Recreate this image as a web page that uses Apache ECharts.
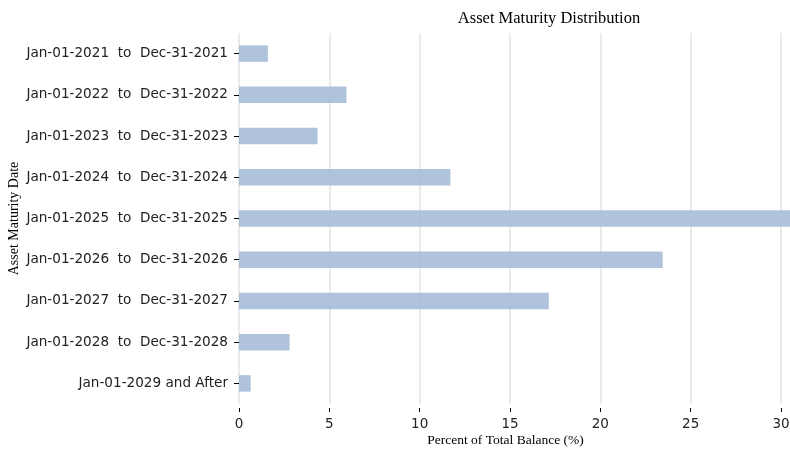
<!DOCTYPE html>
<html>
<head>
<meta charset="utf-8">
<script src="https://cdn.jsdelivr.net/npm/echarts@6/dist/echarts.min.js"></script>
<style>
  html, body { margin: 0; padding: 0; background: #fff; }
  #chart-container { width: 790px; height: 454px; }
</style>
</head>
<body>
<div id="chart-container"></div>
<script>
// maturity buckets, top to bottom
var categories = [
  "Jan-01-2021  to  Dec-31-2021",
  "Jan-01-2022  to  Dec-31-2022",
  "Jan-01-2023  to  Dec-31-2023",
  "Jan-01-2024  to  Dec-31-2024",
  "Jan-01-2025  to  Dec-31-2025",
  "Jan-01-2026  to  Dec-31-2026",
  "Jan-01-2027  to  Dec-31-2027",
  "Jan-01-2028  to  Dec-31-2028",
  "Jan-01-2029 and After"
];
// percent of total balance
var values = [1.6, 5.95, 4.35, 11.7, 30.5, 23.45, 17.15, 2.8, 0.65];

var dom = document.getElementById("chart-container");
var myChart = echarts.init(dom, null, { renderer: "canvas" });

var serif = "'Liberation Serif', 'DejaVu Serif', serif";
var sans = "'DejaVu Sans', sans-serif";

var option = {
  animation: false,
  title: {
    text: "Asset Maturity Distribution",
    left: 544,
    top: 5,
    textAlign: "center",
    textStyle: { fontFamily: serif, fontSize: 16.5, fontWeight: "normal", color: "#000" }
  },
  grid: { left: 239, right: 0, top: 33, bottom: 50, containLabel: false, outerBoundsMode: "none" },
  xAxis: {
    type: "value",
    min: 0,
    max: 30.5,
    interval: 5,
    offset: 4,
    name: "Percent of Total Balance (%)",
    nameLocation: "middle",
    nameGap: 25,
    nameMoveOverlap: false,
    nameTextStyle: { fontFamily: serif, fontSize: 13.5, color: "#000", padding: [0, 18, 0, 0] },
    axisLine: { show: false },
    axisTick: { show: true, length: 4, lineStyle: { color: "#000" } },
    axisLabel: {
      margin: 9,
      fontFamily: sans,
      fontSize: 13.5,
      color: "#222",
      formatter: function (v) { return v % 5 === 0 ? String(v) : ""; }
    },
    splitLine: { show: true, showMaxLine: false, lineStyle: { color: "#e3e3e3", width: 1.5 } }
  },
  yAxis: {
    type: "category",
    data: categories,
    inverse: true,
    name: "Asset Maturity Date",
    nameLocation: "middle",
    nameGap: 218,
    nameMoveOverlap: false,
    nameRotate: 90,
    nameTextStyle: { fontFamily: serif, fontSize: 14, color: "#000" },
    axisLine: { show: false },
    axisTick: { show: true, length: 5, alignWithLabel: true, lineStyle: { color: "#000" } },
    axisLabel: {
      margin: 11,
      fontFamily: sans,
      fontSize: 13.6,
      color: "#222"
    }
  },
  series: [
    {
      type: "bar",
      data: values,
      barWidth: "40%",
      itemStyle: { color: "#a7bdd9", opacity: 0.9 }
    }
  ]
};

myChart.setOption(option);
window.addEventListener("resize", myChart.resize);
</script>
</body>
</html>
